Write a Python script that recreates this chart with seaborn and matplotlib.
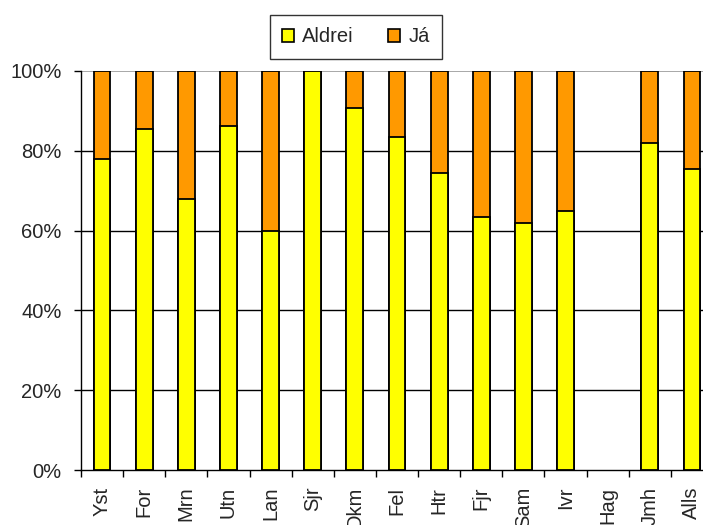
import matplotlib
matplotlib.use("Agg")
import matplotlib.pyplot as plt
import matplotlib.transforms as mtransforms
import seaborn as sns
import numpy as np
import pandas as pd
from matplotlib.patches import Patch
from matplotlib.ticker import FixedLocator

categories = ["Yst", "For", "Mrn", "Utn", "Lan", "Sjr", "Dkm", "Fel", "Htr",
              "Fjr", "Sam", "Ivr", "Hag", "Jmh", "Alls"]
aldrei = [77.9, 85.4, 67.8, 86.3, 59.8, 100.0, 90.8, 83.4, 74.4,
          63.4, 61.9, 64.8, np.nan, 81.9, 75.4]
ja = [22.1, 14.6, 32.2, 13.7, 40.2, 0.0, 9.2, 16.6, 25.6,
      36.6, 38.1, 35.2, np.nan, 18.1, 24.6]
yticks = [0, 20, 40, 60, 80, 100]
ytick_labels = ["0%", "20%", "40%", "60%", "80%", "100%"]
series_names = ["Aldrei", "Já"]
colors = ["#FFFF00", "#FF9900"]

sns.set_style("white")
plt.rcParams["font.family"] = ["Liberation Sans", "DejaVu Sans"]
FS = 14.5

df = pd.DataFrame({"cat": categories, "aldrei": aldrei, "ja": ja})
df["total"] = df["aldrei"] + df["ja"]

fig = plt.figure(figsize=(7.03, 5.25), dpi=100)
ax = fig.add_axes([81/703, 55/525, 632/703, 399/525])

for y in [20, 40, 60, 80]:
    ax.axhline(y, color="black", lw=1, zorder=0)
ax.axhline(100, color="#999999", lw=1.2, zorder=0)

sns.barplot(data=df, x="cat", y="total", order=categories, color=colors[1],
            saturation=1, width=0.4, edgecolor="black", linewidth=1.3, ax=ax, zorder=2)
sns.barplot(data=df, x="cat", y="aldrei", order=categories, color=colors[0],
            saturation=1, width=0.4, edgecolor="black", linewidth=1.3, ax=ax, zorder=3)

ax.set_xlim(-0.5, len(categories) - 0.5)
ax.set_ylim(0, 100)
ax.set_yticks(yticks)
ax.set_yticklabels(ytick_labels, fontsize=FS)
ax.set_xticks(range(len(categories)))
ax.set_xticklabels(categories, rotation=90, fontsize=FS)
offset = mtransforms.ScaledTranslation(3/100, 0, fig.dpi_scale_trans)
for lab in ax.get_xticklabels():
    lab.set_transform(lab.get_transform() + offset)
ax.xaxis.set_minor_locator(FixedLocator(np.arange(-0.5, len(categories), 1)))
ax.tick_params(axis="x", which="major", length=0, pad=12)
ax.tick_params(axis="x", which="minor", length=5, width=1, color="black", direction="out", bottom=True)
ax.tick_params(axis="y", length=5, width=1, color="black", direction="out", left=True, pad=9)
ax.set_xlabel("")
ax.set_ylabel("")
for s in ["top", "right"]:
    ax.spines[s].set_visible(False)
for s in ["left", "bottom"]:
    ax.spines[s].set_color("black")
    ax.spines[s].set_linewidth(1)

handles = [Patch(facecolor=c, edgecolor="black", linewidth=1.2) for c in colors]
leg = fig.legend(handles, series_names, loc="center", bbox_to_anchor=(356/703, 1 - 37/525),
                 ncol=2, frameon=True, fancybox=False, fontsize=FS,
                 handlelength=0.6, handleheight=0.6, handletextpad=0.4,
                 columnspacing=1.7, borderpad=0.6)
leg.get_frame().set_edgecolor("black")
leg.get_frame().set_linewidth(1)

fig.savefig("out.png", dpi=100)
